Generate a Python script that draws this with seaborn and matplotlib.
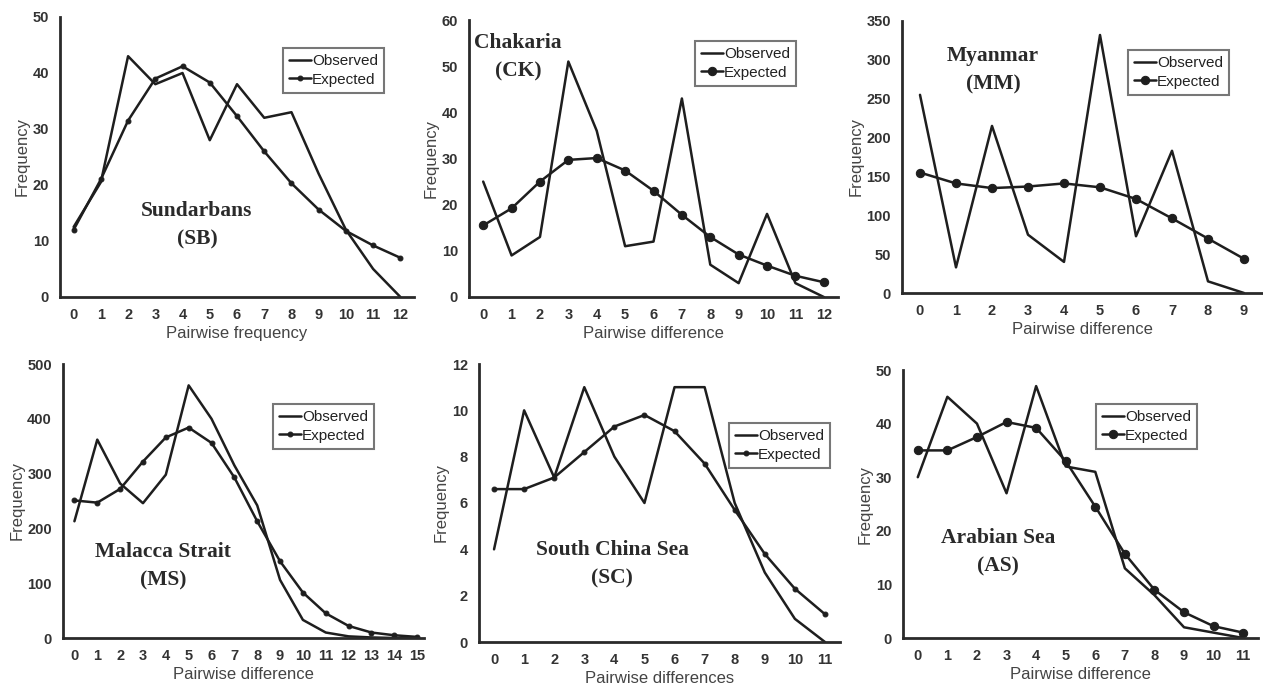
import matplotlib
matplotlib.use("Agg")
import matplotlib.pyplot as plt
import seaborn as sns
import numpy as np

sns.set_theme(style="white")
plt.rcParams['font.family'] = ['Liberation Sans', 'DejaVu Sans']

# ---- data ----
sb_x = list(range(13))
sb_obs = [12.5, 20.5, 43, 38, 40, 28, 38, 32, 33, 22, 12, 5, 0]
sb_exp = [12, 21, 31.5, 39, 41.2, 38.3, 32.3, 26, 20.3, 15.6, 11.8, 9.2, 7]

ck_x = list(range(13))
ck_obs = [25, 9, 13, 51, 36, 11, 12, 43, 7, 3, 18, 3, 0]
ck_exp = [15.5, 19.2, 25, 29.7, 30.1, 27.4, 23, 17.8, 13, 9.2, 6.8, 4.6, 3.2]

mm_x = list(range(10))
mm_obs = [255, 33, 215, 75, 40, 332, 73, 183, 15, 0]
mm_exp = [155, 141, 135, 137, 141, 136, 121, 96, 70, 44]

ms_x = list(range(16))
ms_obs = [213, 362, 282, 246, 298, 461, 400, 315, 242, 106, 33, 10, 3, 1, 0, 0]
ms_exp = [251, 247, 272, 322, 366, 384, 356, 293, 213, 140, 83, 45, 22, 10, 5, 2]

sc_x = list(range(12))
sc_obs = [4, 10, 7.1, 11, 8, 6, 11, 11, 6, 3, 1, 0]
sc_exp = [6.6, 6.6, 7.1, 8.2, 9.3, 9.8, 9.1, 7.7, 5.7, 3.8, 2.3, 1.2]

as_x = list(range(12))
as_obs = [30, 45, 40, 27, 47, 32, 31, 13, 8, 2, 1, 0]
as_exp = [35, 35, 37.5, 40.3, 39.2, 33, 24.5, 15.7, 9, 4.8, 2.2, 1]

titles = ["Sundarbans\n(SB)", "Chakaria\n(CK)", "Myanmar\n(MM)",
          "Malacca Strait\n(MS)", "South China Sea\n(SC)", "Arabian Sea\n(AS)"]
xlabels = ["Pairwise frequency", "Pairwise difference", "Pairwise difference",
           "Pairwise difference", "Pairwise differences", "Pairwise difference"]
ymax = [50, 60, 350, 500, 12, 50]
ystep = [10, 10, 50, 100, 2, 10]

W, H = 1263, 687
fig = plt.figure(figsize=(W / 100, H / 100), dpi=100)

# layout (pixels): left, right, top, bottom of axes; xlim right
rects = [(60, 414, 17, 297, 12.5),
         (469, 838, 20, 297, 12.5),
         (902, 1262, 21, 293, 9.5),
         (63, 424, 364, 638, 15.3),
         (479, 840, 364, 642, 11.5),
         (903, 1258, 370, 638, 11.5)]
title_pos = [(197, 225), (518, 57), (993, 70), (163, 566), (612, 564), (998, 552)]
legend_pos = [(283, 48), (695, 41), (1128, 50), (273, 404), (729, 423), (1096, 404)]
big_marker = [False, True, True, False, False, True]

data = [(sb_x, sb_obs, sb_exp), (ck_x, ck_obs, ck_exp), (mm_x, mm_obs, mm_exp),
        (ms_x, ms_obs, ms_exp), (sc_x, sc_obs, sc_exp), (as_x, as_obs, as_exp)]

lc = "#1e1e1e"
for i, (xs, obs, exp) in enumerate(data):
    l, r, t, b, xr = rects[i]
    ax = fig.add_axes([l / W, 1 - b / H, (r - l) / W, (b - t) / H])
    sns.lineplot(x=xs, y=obs, ax=ax, color=lc, linewidth=1.8, label="Observed")
    ms = 6 if big_marker[i] else 3.5
    sns.lineplot(x=xs, y=exp, ax=ax, color=lc, linewidth=1.8, marker="o",
                 markersize=ms, markeredgecolor=lc, markerfacecolor=lc,
                 label="Expected")
    ax.set_xlim(-0.5, xr)
    ax.set_ylim(0, ymax[i])
    ax.set_xticks(xs)
    ax.set_xticklabels([str(v) for v in xs])
    ax.set_yticks(np.arange(0, ymax[i] + ystep[i] / 2, ystep[i]))
    ax.tick_params(axis="both", length=0, labelsize=10.5, labelcolor="#333333", pad=8)
    for lab in ax.get_xticklabels() + ax.get_yticklabels():
        lab.set_fontweight("bold")
    for s in ["top", "right"]:
        ax.spines[s].set_visible(False)
    for s in ["left", "bottom"]:
        ax.spines[s].set_color("#2a2a2a")
        ax.spines[s].set_linewidth(2)
    ax.set_xlabel(xlabels[i], fontsize=12, color="#444444", labelpad=3)
    ax.set_ylabel("Frequency", fontsize=12, color="#444444", labelpad=2)
    ax.patch.set_alpha(0)
    lx, ly = legend_pos[i]
    leg = ax.legend(loc="upper left", bbox_to_anchor=(lx / W, 1 - ly / H),
                    bbox_transform=fig.transFigure, borderaxespad=0,
                    frameon=True, fancybox=False, fontsize=11,
                    handlelength=1.4, handletextpad=0.1, borderpad=0.4,
                    labelspacing=0.3)
    leg.get_frame().set_edgecolor("#555555")
    leg.get_frame().set_linewidth(1.5)
    for txt in leg.get_texts():
        txt.set_color("#222222")
    tx, ty = title_pos[i]
    fig.text(tx / W, 1 - ty / H, titles[i], ha="center", va="center",
             fontsize=15.5, fontweight="bold", family="Liberation Serif",
             color="#2a2a2a", linespacing=1.55)

fig.savefig("out.png", dpi=100)
